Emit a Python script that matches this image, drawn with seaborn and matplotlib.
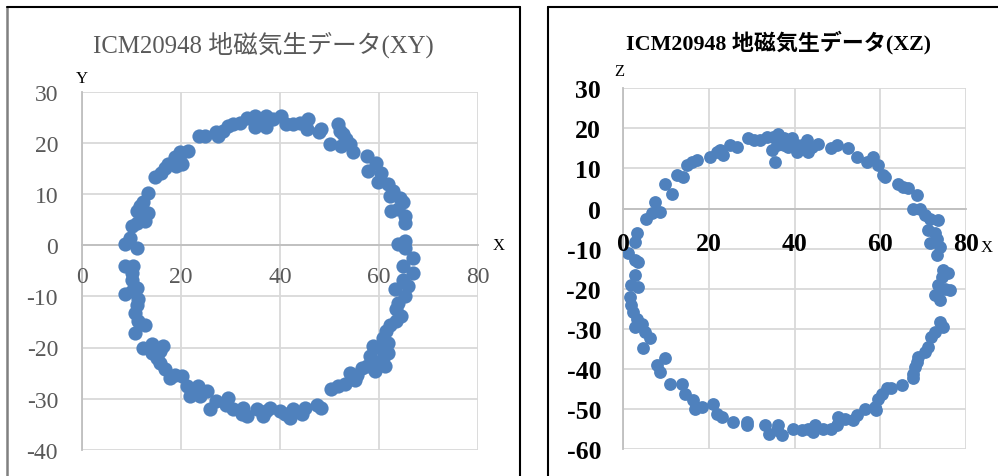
import numpy as np
import pandas as pd
import seaborn as sns
import matplotlib.pyplot as plt
from matplotlib.lines import Line2D

sns.set_style("white")
plt.rcParams['font.family'] = ['Liberation Serif', 'Noto Sans CJK JP', 'DejaVu Sans']
plt.rcParams['axes.unicode_minus'] = False

# 地磁気生データ (XY)
xy_x = [23.7, 24.9, 27.2, 27.6, 28.6, 29.6, 30.6, 31.9, 33.3, 35.0, 35.0, 36.6, 37.3, 37.3,
        38.7, 40.3, 41.3, 42.7, 44.0, 45.7, 45.4, 48.4, 48.0, 51.8, 52.1, 52.8, 53.4, 50.1,
        52.4, 54.1, 54.8,
        57.5, 59.5, 57.8, 60.5, 59.8, 61.8, 62.8, 62.2, 64.2, 64.9, 62.5, 63.9, 65.2, 65.2,
        63.9, 65.2, 65.2, 66.9, 64.8, 66.9, 64.8, 65.9, 63.2, 65.2, 63.9, 63.5, 64.5, 63.5,
        62.2, 61.5, 60.8, 61.8, 58.8, 60.2, 61.8, 58.2, 60.8, 59.5, 61.2, 59.2, 57.5, 56.5,
        55.5, 55.1, 54.1, 53.1, 51.8, 50.4,
        48.4, 47.4, 45.1, 44.4, 42.7, 42.0, 41.0, 40.0, 38.0, 36.6, 37.3, 35.3, 33.3, 32.3,
        32.6, 30.6, 29.2, 29.6, 27.2, 25.9, 25.2, 23.9, 23.5, 21.8, 21.2, 20.2, 18.8, 17.8,
        16.8, 15.8, 15.1, 14.1, 16.5, 15.8, 14.1, 12.4,
        12.8, 10.8, 11.4, 10.8, 11.1, 11.4, 11.1, 8.7, 10.1, 10.1, 10.1, 10.4, 8.7, 11.1,
        8.7, 9.8, 10.1, 11.1, 12.8, 13.4, 11.1, 11.8, 12.4, 13.4, 14.8, 16.1, 16.8, 17.5,
        19.1, 19.8, 18.8, 19.8, 21.5, 20.2]
xy_y = [21.4, 21.4, 22.1, 21.4, 22.4, 23.4, 23.7, 24.0, 25.0, 25.3, 23.1, 24.7, 25.3, 23.1,
        24.7, 25.3, 23.7, 23.7, 24.0, 24.7, 22.7, 22.7, 22.1, 23.7, 22.4, 21.8, 20.8, 19.8,
        19.5, 19.8, 18.2,
        17.5, 16.2, 14.6, 14.2, 12.3, 12.0, 10.6, 9.7, 9.3, 8.4, 6.7, 7.1, 5.7, 4.4,
        0.2, 0.8, -0.5, -2.4, -4.0, -5.4, -6.7, -8.0, -8.6, -9.9, -11.2, -12.5, -13.8, -14.8,
        -15.5, -16.8, -18.1, -19.1, -19.7, -20.1, -21.0, -21.7, -22.0, -23.0, -23.6, -24.6, -23.6, -24.0,
        -25.3, -26.3, -25.0, -27.2, -27.6, -28.2,
        -31.8, -31.2, -31.8, -33.1, -32.1, -33.8, -33.1, -32.5, -31.8, -33.4, -32.5, -32.1, -33.4, -33.1,
        -31.8, -32.1, -31.2, -29.8, -30.5, -32.1, -28.5, -29.5, -27.6, -29.5, -27.6, -25.6, -25.3, -25.9,
        -24.3, -23.0, -22.0, -21.0, -19.7, -20.7, -19.4, -20.1,
        -15.5, -17.1, -14.8, -13.2, -11.6, -10.6, -8.3, -9.6, -8.9, -6.7, -5.4, -4.0, -4.0, -0.5,
        0.2, 1.5, 3.8, 4.4, 4.8, 6.4, 6.7, 7.7, 8.4, 10.3, 13.3, 14.2, 15.2, 15.9,
        15.5, 16.5, 17.2, 18.2, 18.5, 15.9]

# 地磁気生データ (XZ)
xz_x = [20.2, 21.8, 23.3, 22.6, 24.9, 26.5, 29.2, 30.4, 31.9, 33.5, 35.0, 36.2, 35.8, 34.7,
        35.4, 37.4, 37.4, 38.5, 39.3, 40.5, 40.5, 41.7, 42.8, 43.2, 44.0, 45.5, 48.6, 49.8,
        52.5, 54.5, 56.8, 58.4, 59.5, 61.1, 60.7,
        64.2, 65.4, 66.5, 68.5, 67.7, 69.3, 70.4, 71.6, 73.5, 71.2, 72.7, 73.2, 71.6, 73.9,
        73.2, 74.7, 75.9, 74.4, 73.5, 76.3, 75.1, 72.7, 73.9, 73.9, 74.7, 72.7, 71.9, 71.2,
        70.4, 68.8, 68.5, 68.1, 67.7, 67.7, 65.0, 62.6, 61.5, 60.3, 59.5, 58.7, 59.1,
        56.4, 54.5, 53.7, 51.8, 50.2, 49.8, 48.6, 46.7, 44.7, 44.3, 43.2, 41.6, 39.7, 37.0,
        36.2, 35.8, 33.9, 33.1, 28.8, 28.8, 25.7, 23.0, 21.8, 21.0, 18.3, 16.7, 16.3, 14.4,
        13.6, 10.9, 8.6, 7.8, 9.7,
        4.7, 6.2, 5.1, 2.7, 4.3, 3.1, 2.3, 1.9, 1.6, 3.5, 1.9, 2.7, 3.5, 2.7,
        1.2, 2.7, 3.1, 5.4, 6.6, 8.6, 7.4, 9.7, 11.3, 12.5, 14.0, 14.8, 16.0, 17.1]
xz_z = [12.9, 14.1, 13.3, 14.6, 15.8, 15.4, 17.5, 17.1, 17.1, 17.9, 17.9, 18.7, 15.8, 14.6,
        11.6, 17.5, 15.8, 15.4, 17.5, 14.1, 15.8, 15.8, 17.1, 14.1, 15.4, 16.2, 15.0, 15.8,
        15.0, 12.9, 11.6, 12.9, 10.8, 7.9, 8.3,
        6.2, 5.4, 5.0, 3.3, 0.0, 0.0, -1.7, -2.5, -2.9, -5.4, -6.2, -7.5, -8.7, -9.6,
        -11.6, -15.4, -16.2, -17.1, -19.1, -20.4, -20.0, -21.6, -22.9, -28.3, -29.5, -30.8, -32.1, -34.5,
        -35.8, -37.0, -38.3, -39.5, -41.2, -42.4, -44.1, -44.9, -44.9, -46.2, -47.4, -49.5, -50.3,
        -49.9, -51.6, -52.8, -52.4, -52.0, -54.1, -54.9, -54.9, -54.1, -55.7, -54.9, -55.3, -54.9, -56.6,
        -54.1, -55.3, -56.2, -54.1, -53.2, -54.1, -53.2, -52.0, -51.2, -48.7, -49.5, -49.9, -47.8, -46.2,
        -43.7, -43.7, -40.8, -39.1, -37.4,
        -34.9, -32.4, -30.8, -29.5, -28.7, -27.5, -25.8, -24.1, -22.0, -19.6, -19.1, -16.6, -13.3, -12.9,
        -11.2, -8.3, -6.2, -2.5, -1.2, -0.8, 1.7, 6.2, 3.7, 8.3, 7.9, 10.8, 11.6, 12.1]

x_ticks = [0, 20, 40, 60, 80]
xy_y_ticks = [-40, -30, -20, -10, 0, 10, 20, 30]
xz_y_ticks = [-60, -50, -40, -30, -20, -10, 0, 10, 20, 30]
titles = ['ICM20948 地磁気生データ(XY)', 'ICM20948 地磁気生データ(XZ)']

BLUE = '#4F81BD'
GRID = '#d9d9d9'
AXIS = '#bfbfbf'

W, H = 998, 477
fig = plt.figure(figsize=(W / 100, H / 100), dpi=100)

df_xy = pd.DataFrame({'X': xy_x, 'Y': xy_y})
df_xz = pd.DataFrame({'X': xz_x, 'Z': xz_z})


def style_axes(ax, yticks, label_color, weight, tick_len, xpad, ypad, fontsize):
    ax.set_xlim(0, 80)
    ax.set_ylim(yticks[0], yticks[-1])
    ax.set_xticks(x_ticks)
    ax.set_yticks(yticks)
    # グリッドは点の下、目盛ラベルは点の上
    ax.grid(False)
    for v in yticks:
        ax.axhline(v, color=GRID, linewidth=1.3, zorder=0.5)
    for v in x_ticks:
        ax.axvline(v, color=GRID, linewidth=1.3, zorder=0.5)
    ax.set_axisbelow(False)
    for s in ['top', 'right']:
        ax.spines[s].set_visible(False)
    for s in ['left', 'bottom']:
        ax.spines[s].set_color(AXIS)
        ax.spines[s].set_linewidth(1.3)
        ax.spines[s].set_zorder(0.8)
    ax.spines['bottom'].set_position(('data', 0))
    ax.tick_params(axis='both', colors=AXIS, labelcolor=label_color, labelsize=fontsize,
                   length=tick_len, width=1.3, direction='out')
    ax.tick_params(axis='y', pad=ypad)
    ax.tick_params(axis='x', pad=xpad)
    for lab in ax.get_xticklabels() + ax.get_yticklabels():
        lab.set_fontweight(weight)


# 左: XY
ax1 = fig.add_axes([81.7 / W, 1 - 450.7 / H, 396.3 / W, 357.7 / H])
sns.scatterplot(data=df_xy, x='X', y='Y', ax=ax1, s=105, color=BLUE, linewidth=0,
                legend=False, zorder=2)
style_axes(ax1, xy_y_ticks, '#595959', 'normal', 6, 9, 11, 17)
ax1.set_xlabel('X', fontsize=12, color='black')
ax1.xaxis.set_label_coords(1.053, 0.572)
ax1.xaxis.label.set_va('center')
ax1.set_ylabel('Y', fontsize=12, color='black', rotation=0, ha='center', va='center')
ax1.yaxis.set_label_coords(0.0, 1.039)

# 右: XZ
ax2 = fig.add_axes([623.3 / W, 1 - 450 / H, 342.7 / W, 360.7 / H])
sns.scatterplot(data=df_xz, x='X', y='Z', ax=ax2, s=85, color=BLUE, linewidth=0,
                legend=False, zorder=2)
style_axes(ax2, xz_y_ticks, 'black', 'bold', 0, 17, 16, 18.5)
ax2.set_xlabel('X', fontsize=12, color='black')
ax2.xaxis.set_label_coords(1.061, 0.56)
ax2.xaxis.label.set_va('center')
ax2.set_ylabel('Z', fontsize=12, color='black', rotation=0, ha='center', va='center')
ax2.yaxis.set_label_coords(-0.0125, 1.048)

# タイトル
fig.text(263 / W, 1 - 45 / H, titles[0], ha='center', va='center', fontsize=17.8, color='#595959')
fig.text(778 / W, 1 - 43 / H, titles[1], ha='center', va='center', fontsize=15.8, color='black',
         fontweight='bold')

# チャート枠
def fline(x0, y0, x1, y1, color='black', lw=1.5):
    fig.add_artist(Line2D([x0 / W, x1 / W], [1 - y0 / H, 1 - y1 / H], color=color,
                          linewidth=lw, transform=fig.transFigure))

fline(7, 8, 7, H, color='#808080', lw=1.8)
fline(7, 8, 520, 8)
fline(520, 8, 520, H)
fline(548, 8, 548, H)
fline(548, 8, W, 8)

fig.savefig('out.png', dpi=100)
